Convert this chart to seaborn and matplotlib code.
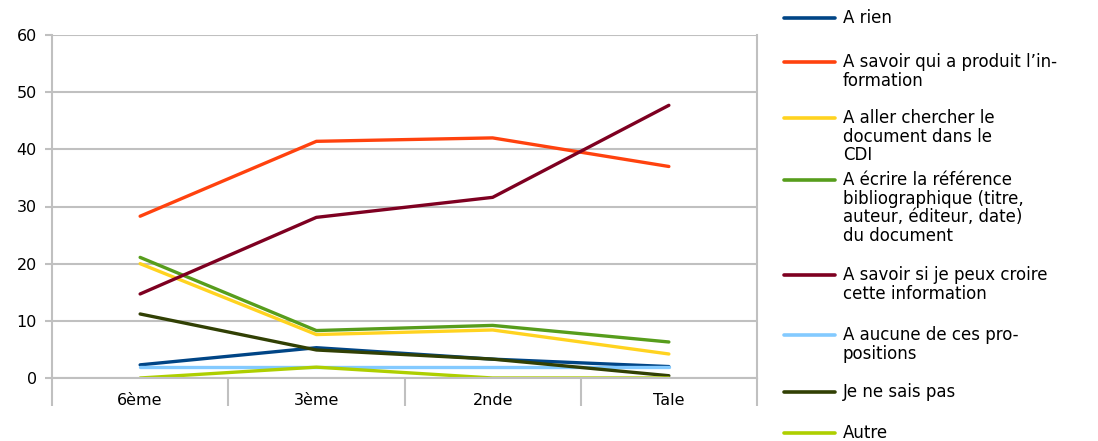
import matplotlib
matplotlib.use('Agg')
import matplotlib.pyplot as plt
from matplotlib.lines import Line2D
import seaborn as sns
import pandas as pd

sns.set_style('white')
plt.rcParams['font.family'] = ['DejaVu Sans']

# Données
niveaux = ['6ème', '3ème', '2nde', 'Tale']
reponses = [
    'A rien',
    'A savoir qui a produit l\u2019in-\nformation',
    'A aller chercher le\ndocument dans le\nCDI',
    'A écrire la référence\nbibliographique (titre,\nauteur, éditeur, date)\ndu document',
    'A savoir si je peux croire\ncette information',
    'A aucune de ces pro-\npositions',
    'Je ne sais pas',
    'Autre',
]
a_rien = [2.3, 5.3, 3.3, 2.0]
qui_produit = [28.3, 41.4, 42.0, 37.0]
aller_chercher = [20.0, 7.6, 8.4, 4.2]
ecrire_ref = [21.1, 8.3, 9.2, 6.3]
croire = [14.7, 28.1, 31.6, 47.7]
aucune = [1.9, 1.9, 1.9, 1.9]
ne_sais_pas = [11.2, 4.9, 3.3, 0.4]
autre = [0.0, 1.9, 0.0, 0.0]
series = [a_rien, qui_produit, aller_chercher, ecrire_ref, croire, aucune, ne_sais_pas, autre]

COLORS = ['#004586', '#ff420e', '#ffd320', '#579d1c', '#7e0021', '#83caff', '#314004', '#aecf00']

rows = []
for rep, vals in zip(reponses, series):
    for niv, v in zip(niveaux, vals):
        rows.append({'niveau': niv, 'reponse': rep, 'valeur': v})
df = pd.DataFrame(rows)

fig = plt.figure(figsize=(10.98, 4.41), dpi=100)
ax = fig.add_axes([52 / 1098, 1 - 378 / 441, (757 - 52) / 1098, (378 - 35) / 441])

sns.lineplot(data=df, x='niveau', y='valeur', hue='reponse', hue_order=reponses,
             palette=COLORS, linewidth=2.4, legend=False, ax=ax, sort=False)

GRIS = '#c0c0c0'
ax.set_xlim(-0.5, 3.5)
ax.set_ylim(0, 60)
ax.set_yticks(range(0, 61, 10))
ax.set_xlabel('')
ax.set_ylabel('')
ax.grid(axis='y', color=GRIS, linewidth=1.5)
ax.set_axisbelow(True)
ax.spines['top'].set_visible(False)
for s in ['left', 'bottom', 'right']:
    ax.spines[s].set_color(GRIS)
    ax.spines[s].set_linewidth(1.5)

ax.set_xticks(range(4))
ax.set_xticklabels(niveaux)
ax.set_xticks([-0.5, 0.5, 1.5, 2.5, 3.5], minor=True)
ax.tick_params(bottom=True, left=True, which='both')
ax.tick_params(axis='x', which='major', length=0, pad=11, labelsize=11.5, labelcolor='black')
ax.tick_params(axis='x', which='minor', length=20, color=GRIS, width=1.5)
ax.tick_params(axis='y', length=5, color=GRIS, width=1.5, pad=6, labelsize=11.5,
               labelcolor='black')

# Légende à droite
y_px = [18, 62, 118, 180, 275, 335, 392, 433]
for rep, c, yp in zip(reponses, COLORS, y_px):
    y = 1 - yp / 441
    fig.add_artist(Line2D([784 / 1098, 835 / 1098], [y, y], color=c, linewidth=2.6,
                          transform=fig.transFigure))
    fig.text(843 / 1098, y + 9 / 441, rep, fontsize=12, va='top', ha='left',
             linespacing=1.05, color='black')

plt.savefig('out.png', dpi=100)
plt.close()
